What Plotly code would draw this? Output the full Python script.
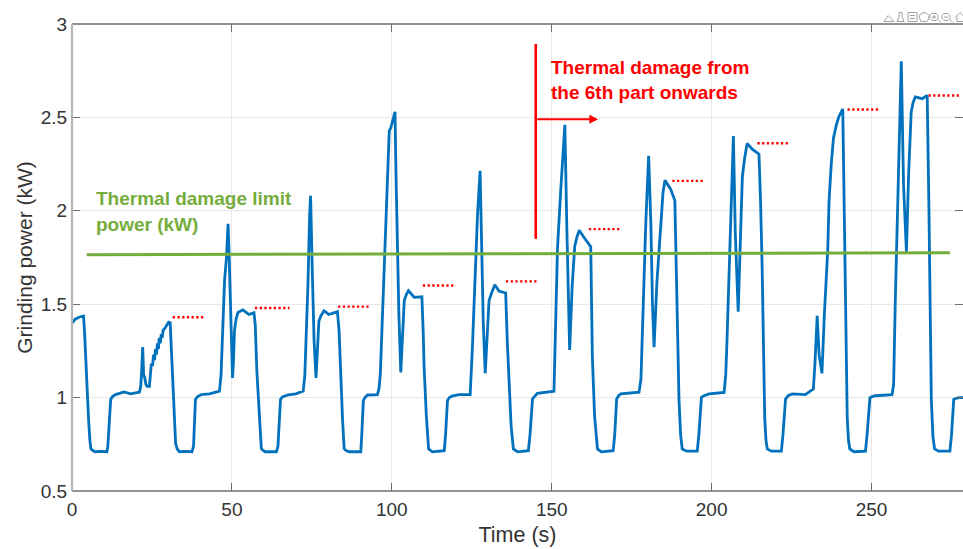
import plotly.graph_objects as go

cycle_1_time = [0.1,1.0,2.2,3.6,3.9,4.4,5.2,5.6,5.9,6.4,7.2,9.0,10.9,11.2,11.5,12.1,12.6,13.6,16.3,18.3,21.1,21.5,21.8,22.1,22.4,22.7,23.1,23.5,24.2,24.8,25.2,25.5,25.8,26.1,26.4,26.7,27.0,27.3,27.6,27.9,28.2,28.5,29.2,30.2,30.7,31.1,31.6,32.0,32.4,32.9,33.6,35.5,37.5]
cycle_1_power = [1.40,1.42,1.43,1.437,1.36,1.15,0.877,0.77,0.727,0.718,0.71,0.712,0.71,0.74,0.84,0.99,1.004,1.016,1.03,1.02,1.03,1.06,1.15,1.27,1.12,1.11,1.07,1.06,1.06,1.18,1.17,1.23,1.20,1.26,1.23,1.29,1.26,1.32,1.29,1.34,1.32,1.36,1.375,1.403,1.40,1.25,1.09,0.88,0.754,0.725,0.71,0.712,0.71]
cycle_2_time = [38.0,38.3,38.6,39.2,40.4,43.0,46.1,46.6,47.0,47.7,48.3,48.8,49.1,49.3,49.8,50.2,50.5,50.8,51.3,51.9,53.4,55.3,56.9,57.3,57.8,58.4,59.2,59.7,60.4,62.0,63.9]
cycle_2_power = [0.74,0.84,0.99,1.004,1.016,1.02,1.035,1.12,1.285,1.625,1.75,1.93,1.78,1.625,1.3,1.105,1.2,1.358,1.42,1.456,1.47,1.445,1.455,1.39,1.14,0.93,0.727,0.718,0.71,0.71,0.71]
cycle_3_time = [64.4,64.8,65.2,65.8,67.6,70.0,72.3,72.8,73.2,73.8,74.3,74.6,75.1,75.7,76.3,76.7,77.2,77.9,78.8,80.3,83.0,83.5,84.0,84.6,85.1,85.7,86.7,88.5,90.3]
cycle_3_power = [0.74,0.84,0.99,1.004,1.015,1.02,1.035,1.12,1.3,1.62,1.98,2.08,1.7,1.3,1.105,1.25,1.41,1.44,1.465,1.445,1.46,1.36,1.1,0.88,0.727,0.716,0.71,0.71,0.71]
cycle_4_time = [90.6,91.1,91.6,92.4,95.5,96.0,96.4,97.0,97.6,98.4,99.2,99.7,101.0,101.3,101.6,102.2,102.8,103.3,103.9,104.5,105.2,107.0,109.4,109.8,110.1,110.8,111.5,112.7,116.4]
cycle_4_power = [0.80,0.984,1.0,1.014,1.016,1.05,1.126,1.4,1.75,2.1,2.428,2.446,2.53,2.2,1.93,1.45,1.135,1.33,1.52,1.55,1.572,1.537,1.54,1.36,1.16,0.9,0.725,0.71,0.716]
cycle_5_time = [116.8,117.4,118.0,119.0,121.1,124.5,125.2,126.0,126.8,127.6,128.1,128.6,129.2,129.8,130.4,131.2,132.2,133.5,135.6,136.1,136.7,137.3,138.0,139.3,142.7]
cycle_5_power = [0.80,0.984,1.0,1.009,1.016,1.016,1.27,1.6,1.98,2.214,1.75,1.4,1.13,1.34,1.52,1.56,1.604,1.57,1.56,1.3,1.037,0.85,0.725,0.71,0.716]
cycle_6_time = [143.2,144.0,144.7,145.5,150.7,151.1,151.8,152.8,153.5,154.1,154.7,155.2,155.6,156.4,157.2,157.9,158.6,160.1,162.2,162.7,163.4,164.3,165.5,169.2]
cycle_6_power = [0.80,0.993,1.01,1.023,1.034,1.3,1.80,2.106,2.3,2.46,1.93,1.5,1.255,1.6,1.81,1.86,1.896,1.857,1.808,1.22,0.9,0.725,0.71,0.716]
cycle_7_time = [169.7,170.3,170.9,171.6,177.3,177.9,178.4,179.4,180.3,181.0,181.5,182.0,182.9,184.1,184.8,185.4,187.2,188.5,188.9,189.4,189.8,190.3,190.8,192.2,195.5]
cycle_7_power = [0.80,0.993,1.01,1.02,1.029,1.1,1.394,1.93,2.295,1.93,1.5,1.27,1.62,1.946,2.1,2.164,2.116,2.054,1.768,1.3,0.984,0.8,0.725,0.713,0.713]
cycle_8_time = [196.0,196.8,197.6,199.2,203.9,204.4,204.7,205.4,206.0,206.8,207.4,208.3,209.0,209.6,210.3,211.1,212.7,214.8,215.3,215.8,216.6,217.0,217.4,218.7,221.8]
cycle_8_power = [0.80,1.0,1.01,1.02,1.028,1.12,1.25,1.65,2.05,2.40,1.88,1.46,1.85,2.18,2.28,2.36,2.33,2.303,2.05,1.69,0.89,0.77,0.725,0.713,0.713]
cycle_9_time = [222.3,223.1,223.9,225.2,229.3,231.8,232.3,233.0,233.6,234.5,235.2,236.3,236.7,237.4,238.1,239.0,239.8,241.0,241.6,242.0,242.4,242.8,243.2,244.5,248.1]
cycle_9_power = [0.80,0.991,1.01,1.02,1.016,1.046,1.18,1.438,1.23,1.13,1.43,1.79,2.05,2.25,2.39,2.46,2.505,2.545,1.88,1.3,0.89,0.77,0.725,0.71,0.713]
cycle_10_time = [248.6,249.5,250.2,251.2,256.4,256.9,257.4,258.0,258.6,259.3,260.0,260.9,261.6,262.4,263.0,263.7,265.8,267.4,267.9,268.3,268.7,269.2,269.7,271.0,274.5,275.0,275.7,276.3,277.3,279.0]
cycle_10_power = [0.80,1.0,1.005,1.01,1.016,1.07,1.5,1.96,2.4,2.80,2.14,1.78,2.2,2.53,2.58,2.61,2.60,2.617,2.06,1.45,0.984,0.79,0.725,0.713,0.713,0.80,0.99,0.995,1.0,1.0]

time_cycles = [cycle_1_time,cycle_2_time,cycle_3_time,cycle_4_time,cycle_5_time,cycle_6_time,cycle_7_time,cycle_8_time,cycle_9_time,cycle_10_time]
power_cycles = [cycle_1_power,cycle_2_power,cycle_3_power,cycle_4_power,cycle_5_power,cycle_6_power,cycle_7_power,cycle_8_power,cycle_9_power,cycle_10_power]
time_s, power_kw = [], []
for i, (a, b) in enumerate(zip(time_cycles, power_cycles)):
    assert len(a) == len(b), (i, len(a), len(b))
    time_s += a
    power_kw += b

limit_time = [4.6, 100, 200, 274.5]
limit_power = [1.765, 1.768, 1.772, 1.775]

ref_start = [31.5,57.2,83.2,109.7,135.7,161.6,187.7,214.3,242.5,267.8]
ref_end = [41.2,68.0,93.0,119.4,145.6,171.6,197.6,224.0,252.2,277.8]
ref_level = [1.43,1.48,1.487,1.60,1.622,1.902,2.16,2.362,2.542,2.617]

marker_time = [145, 145]
marker_power = [1.85, 2.893]
arrow_time = [145, 164.5]
arrow_power = 2.49

x_ticks = [0, 50, 100, 150, 200, 250]
y_ticks = [0.5, 1, 1.5, 2, 2.5, 3]
y_labels = ["0.5", "1", "1.5", "2", "2.5", "3"]

W, H = 963, 549
L, R, T, B = 71.5, 963, 23.5, 491
GREEN, RED, BLUE, GREY = "#75AD3C", "#FF0000", "#0072BD", "#6E6E6E"
FONT = "Liberation Sans, Arial, sans-serif"

def px(x):
    return (x - L) / (R - L)
def py(y):
    return (B - y) / (B - T)

ref_x, ref_y = [], []
for a, b, v in zip(ref_start, ref_end, ref_level):
    ref_x += [a, b, None]
    ref_y += [v, v, None]

fig = go.Figure()
fig.add_scatter(x=time_s, y=power_kw, mode="lines",
                line=dict(color=BLUE, width=2.8))
fig.add_scatter(x=limit_time, y=limit_power, mode="lines",
                line=dict(color=GREEN, width=3))
fig.add_scatter(x=ref_x, y=ref_y, mode="lines",
                line=dict(color=RED, width=2.4, dash="2.3px,2.4px"))
fig.add_scatter(x=marker_time, y=marker_power, mode="lines",
                line=dict(color=RED, width=2.6))

def note(text, x, y, color):
    fig.add_annotation(text=text, x=x, y=y, xref="x", yref="y", showarrow=False,
                       xanchor="left", yanchor="middle",
                       font=dict(family=FONT, size=19, color=color))

note("<b>Thermal damage from</b>", 149.2, 2.765, RED)
note("<b>the 6th part onwards</b>", 149.2, 2.632, RED)
note("<b>Thermal damage limit</b>", 7.0, 2.065, GREEN)
note("<b>power (kW)</b>", 7.0, 1.925, GREEN)

fig.add_annotation(x=arrow_time[1], y=arrow_power, ax=arrow_time[0], ay=arrow_power,
                   xref="x", yref="y", axref="x", ayref="y", text="", showarrow=True,
                   arrowhead=2, arrowsize=0.8, arrowwidth=2.2, arrowcolor=RED)

shapes = [
    dict(type="line", xref="paper", yref="paper", x0=0, x1=1, y0=1, y1=1,
         line=dict(color=GREY, width=1.3)),
    dict(type="line", xref="paper", yref="paper", x0=0, x1=1, y0=0, y1=0,
         line=dict(color=GREY, width=1.3)),
    dict(type="line", xref="paper", yref="paper", x0=0, x1=0, y0=0, y1=1,
         line=dict(color="#B5B5B5", width=2.2)),
]
# faint toolbar icons above the top right corner
icons = [
    "M 884 21 L 888 15 L 891 18 L 894 21 Z",
    "M 897 21 L 899 16 L 899 12 L 902 12 L 902 16 L 904 21 Z",
    "M 908 12 L 917 12 L 917 21 L 908 21 Z M 910 15 L 915 15 M 910 18 L 915 18",
    "M 921 21 L 919 16 L 921 13 L 924 12 L 927 13 L 929 15 L 928 20 L 926 21 Z",
    "M 932 13 L 936 13 L 938 15 L 938 18 L 936 20 L 932 20 L 930 18 L 930 15 Z M 938 19 L 941 22 M 932 16.5 L 936 16.5 M 934 14.5 L 934 18.5",
    "M 944 13 L 948 13 L 950 15 L 950 18 L 948 20 L 944 20 L 942 18 L 942 15 Z M 950 19 L 953 22 M 944 16.5 L 948 16.5",
    "M 955 17 L 960 12 L 963 15 M 957 16 L 957 21 L 963 21",
]
for d in icons:
    tokens = d.split()
    out, i = [], 0
    while i < len(tokens):
        t = tokens[i]
        if t in "MLZ":
            out.append(t)
            i += 1
        else:
            out.append(f"{px(float(t)):.5f},{py(float(tokens[i + 1])):.5f}")
            i += 2
    shapes.append(dict(type="path", xref="paper", yref="paper", path=" ".join(out),
                       line=dict(color="#A0A0A0", width=1)))

axis = dict(showgrid=True, gridcolor="#E8E8E8", gridwidth=1, zeroline=False,
            showline=True, linecolor="rgba(0,0,0,0)", mirror="allticks",
            ticks="inside", ticklen=8, tickwidth=1, tickcolor=GREY,
            tickfont=dict(family=FONT, size=19, color="#333333"))

fig.update_layout(
    width=W, height=H, autosize=False, showlegend=False,
    paper_bgcolor="white", plot_bgcolor="white",
    margin=dict(l=L, r=W - R, t=T, b=H - B, pad=0),
    font=dict(family=FONT, color="#333333"),
    shapes=shapes,
    xaxis=dict(axis, range=[0, (R - L) / 3.2], tickvals=x_ticks, ticklabelstandoff=1,
               title=dict(text="Time (s)", font=dict(family=FONT, size=21.5, color="#333333"), standoff=8)),
    yaxis=dict(axis, range=[0.5, 3], tickvals=y_ticks, ticktext=y_labels,
               title=dict(text="Grinding power (kW)", font=dict(family=FONT, size=21, color="#333333"), standoff=2)),
)
fig.write_html("out.html", config=dict(displayModeBar=False),
               post_script="document.body.style.margin='0';document.documentElement.style.overflow='hidden';")
